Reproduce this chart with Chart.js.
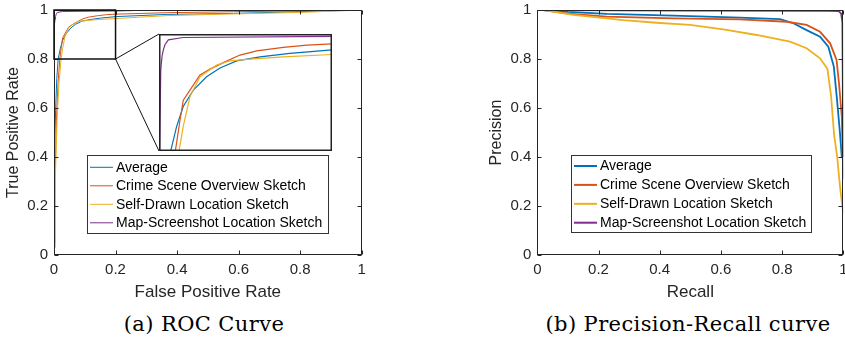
<!DOCTYPE html>
<html>
<head>
<meta charset="utf-8">
<script src="https://cdn.jsdelivr.net/npm/chart.js@4/dist/chart.umd.min.js"></script>
<style>
  html, body { margin: 0; padding: 0; background: #fff; overflow: hidden; width: 845px; height: 340px; }
  .pane { position: absolute; }
  .cap { position: absolute; font-family: "DejaVu Serif", serif; font-size: 21px; line-height: 24px;
         letter-spacing: 0.4px; color: #000; white-space: nowrap; transform: translateX(-50%); }
</style>
</head>
<body>
<div class="pane" style="left:0;top:-20px"><canvas id="roc" width="380" height="325"></canvas></div>
<div class="pane" style="left:480px;top:-20px"><canvas id="pr" width="380" height="325"></canvas></div>
<div class="pane" style="left:159px;top:34px;background:#fff"><canvas id="zoom" width="173" height="117"></canvas></div>
<div class="cap" style="left:204px;top:312px">(a) ROC Curve</div>
<div class="cap" style="left:688px;top:312px">(b) Precision-Recall curve</div>
<script>
// series names (legend)
const seriesNames = ["Average", "Crime Scene Overview Sketch", "Self-Drawn Location Sketch", "Map-Screenshot Location Sketch"];
const seriesColors = ["#0072BD", "#D95319", "#EDB120", "#7E2F8E"];

// ROC curves (false positive rate / true positive rate)
const rocAvgFpr = [0, 0.001, 0.003, 0.006, 0.009, 0.0135, 0.0204, 0.028, 0.0397, 0.055, 0.0705, 0.0898, 0.1168, 0.1514, 0.2, 0.367, 0.583, 0.8, 1];
const rocAvgTpr = [0.05, 0.25, 0.45, 0.62, 0.72, 0.80, 0.842, 0.876, 0.904, 0.927, 0.942, 0.954, 0.961, 0.967, 0.973, 0.982, 0.986, 0.993, 1];
const rocCrimeFpr = [0, 0.003, 0.008, 0.013, 0.0189, 0.0243, 0.0281, 0.0358, 0.0474, 0.059, 0.0743, 0.0936, 0.113, 0.1437, 0.171, 0.2, 0.367, 0.583, 0.8, 1];
const rocCrimeTpr = [0.03, 0.3, 0.55, 0.7, 0.80, 0.853, 0.887, 0.904, 0.930, 0.940, 0.951, 0.964, 0.971, 0.977, 0.981, 0.983, 0.989, 0.993, 0.996, 1];
const rocSelfFpr = [0, 0.004, 0.01, 0.016, 0.0231, 0.028, 0.0358, 0.0474, 0.0667, 0.082, 0.105, 0.1437, 0.2, 0.367, 0.583, 0.8, 1];
const rocSelfTpr = [0.06, 0.3, 0.55, 0.7, 0.80, 0.842, 0.893, 0.927, 0.947, 0.954, 0.957, 0.961, 0.965, 0.977, 0.984, 0.99, 1];
const rocMapFpr = [0, 0.0005, 0.001, 0.002, 0.0035, 0.005, 0.007, 0.0108, 0.028, 0.2, 0.3, 1];
const rocMapTpr = [0.09, 0.5, 0.8, 0.938, 0.962, 0.973, 0.982, 0.99, 0.994, 0.996, 0.999, 1];

// precision-recall curves
const prAvgRecall = [0.02, 0.1, 0.227, 0.444, 0.662, 0.793, 0.837, 0.880, 0.924, 0.951, 0.969, 0.979, 0.989, 0.995];
const prAvgPrecision = [1.0, 0.992, 0.984, 0.977, 0.969, 0.963, 0.946, 0.918, 0.891, 0.85, 0.769, 0.64, 0.50, 0.40];
const prCrimeRecall = [0.02, 0.1, 0.227, 0.444, 0.662, 0.815, 0.880, 0.924, 0.957, 0.978, 0.986, 0.995, 1.0];
const prCrimePrecision = [1.0, 0.985, 0.973, 0.966, 0.962, 0.952, 0.939, 0.911, 0.864, 0.796, 0.70, 0.565, 0.31];
const prSelfRecall = [0.02, 0.118, 0.281, 0.390, 0.499, 0.608, 0.717, 0.826, 0.880, 0.924, 0.948, 0.96, 0.97, 0.98, 0.99, 1.0];
const prSelfPrecision = [1.0, 0.98, 0.959, 0.948, 0.939, 0.921, 0.898, 0.871, 0.844, 0.803, 0.76, 0.65, 0.49, 0.40, 0.27, 0.17];
const prMapRecall = [0.02, 0.5, 0.95, 0.985, 0.993, 0.997, 1.0];
const prMapPrecision = [1.0, 0.998, 0.997, 0.995, 0.985, 0.95, 0.4];

// zoom box shown in the ROC inset
const zoomX = [0, 0.2];
const zoomY = [0.8, 1];

const FONT = "'Liberation Sans', Arial, sans-serif";
const AXIS = "#262626";

function pts(xs, ys) {
  return xs.map((v, i) => ({ x: v, y: ys[i] }));
}

function makeSets(pairs, width) {
  return pairs.map((p, i) => ({
    label: seriesNames[i],
    data: pts(p[0], p[1]),
    borderColor: seriesColors[i],
    borderWidth: width,
    pointRadius: 0,
    tension: 0,
    fill: false,
    order: pairs.length - i
  }));
}

const rocPairs = [[rocAvgFpr, rocAvgTpr], [rocCrimeFpr, rocCrimeTpr], [rocSelfFpr, rocSelfTpr], [rocMapFpr, rocMapTpr]];
const prPairs = [[prAvgRecall, prAvgPrecision], [prCrimeRecall, prCrimePrecision], [prSelfRecall, prSelfPrecision], [prMapRecall, prMapPrecision]];

// box around the axes with inward ticks, like matlab
const framePlugin = {
  id: "frame",
  afterDatasetsDraw(chart, args, opts) {
    const { ctx, chartArea: a, scales: { x, y } } = chart;
    ctx.save();
    ctx.strokeStyle = AXIS;
    ctx.lineWidth = 1;
    const L = Math.round(a.left) + 0.5, R = Math.round(a.right) - 0.5;
    const T = Math.round(a.top) + 0.5, B = Math.round(a.bottom) - 0.5;
    ctx.strokeRect(L, T, R - L, B - T);
    ctx.beginPath();
    x.ticks.forEach(t => {
      const px = Math.round(x.getPixelForValue(t.value)) + 0.5;
      ctx.moveTo(px, B); ctx.lineTo(px, B - 4);
      ctx.moveTo(px, T); ctx.lineTo(px, T + 4);
    });
    y.ticks.forEach(t => {
      const py = Math.round(y.getPixelForValue(t.value)) + 0.5;
      ctx.moveTo(L, py); ctx.lineTo(L + 4, py);
      ctx.moveTo(R, py); ctx.lineTo(R - 4, py);
    });
    ctx.stroke();

    // zoomed region and connector lines to the inset
    if (opts.zoom) {
      const x0 = x.getPixelForValue(zoomX[0]), x1 = x.getPixelForValue(zoomX[1]);
      const y0 = y.getPixelForValue(zoomY[0]), y1 = y.getPixelForValue(zoomY[1]);
      ctx.strokeStyle = "#111";
      ctx.lineWidth = 1.5;
      ctx.strokeRect(x0, y1, x1 - x0, y0 - y1);
      ctx.lineWidth = 1;
      ctx.beginPath();
      ctx.moveTo(x1, y0); ctx.lineTo(opts.zoom.left, opts.zoom.top);
      ctx.moveTo(x1, y0); ctx.lineTo(opts.zoom.left, opts.zoom.bottom);
      ctx.stroke();
    }
    ctx.restore();
  }
};

// legend box placed inside the plot
const legendPlugin = {
  id: "boxLegend",
  afterDraw(chart, args, o) {
    const ctx = chart.ctx;
    ctx.save();
    ctx.fillStyle = "#fff";
    ctx.fillRect(o.x, o.y, o.w, o.h);
    ctx.strokeStyle = "#333";
    ctx.lineWidth = 1;
    ctx.strokeRect(o.x + 0.5, o.y + 0.5, o.w, o.h);
    ctx.font = "14px " + FONT;
    ctx.textBaseline = "middle";
    chart.data.datasets.forEach((ds, i) => {
      const ry = o.y + o.first + i * o.step;
      ctx.strokeStyle = ds.borderColor;
      ctx.lineWidth = o.lw;
      ctx.beginPath();
      ctx.moveTo(o.x + 3, ry); ctx.lineTo(o.x + 3 + o.len, ry);
      ctx.stroke();
      ctx.fillStyle = "#000";
      ctx.fillText(ds.label, o.x + o.len + 6, ry + 0.5);
    });
    ctx.restore();
  }
};

function scalesFor(xTitle, yTitle, yWidth, yTitlePad) {
  const tickFont = { family: FONT, size: 15 };
  const fmt = v => String(+Number(v).toFixed(1));
  return {
    x: {
      type: "linear", min: 0, max: 1,
      grid: { display: false, drawTicks: false }, border: { display: false },
      ticks: { stepSize: 0.2, padding: 6, color: AXIS, font: tickFont, maxRotation: 0, autoSkip: false, callback: fmt },
      title: { display: true, text: xTitle, color: AXIS, font: { family: FONT, size: 17 }, padding: { top: 0, bottom: 2 } },
      afterFit: s => { s.height = 50; }
    },
    y: {
      type: "linear", min: 0, max: 1,
      grid: { display: false, drawTicks: false }, border: { display: false },
      ticks: { stepSize: 0.2, padding: 6, color: AXIS, font: tickFont, autoSkip: false, callback: fmt },
      title: { display: true, text: yTitle, color: AXIS, font: { family: FONT, size: 16 }, padding: { top: yTitlePad, bottom: 0 } },
      afterFit: s => { s.width = yWidth; }
    }
  };
}

const baseOpts = {
  responsive: false,
  animation: false,
  events: [],
  plugins: { legend: { display: false }, tooltip: { enabled: false } }
};

// ROC chart (canvas sits at page 0,-20)
new Chart(document.getElementById("roc"), {
  type: "line",
  data: { datasets: makeSets(rocPairs, 1) },
  options: {
    ...baseOpts,
    layout: { padding: { top: 30, right: 18.3, left: 0, bottom: 0 } },
    scales: scalesFor("False Positive Rate", "True Positive Rate", 54, 4),
    plugins: {
      ...baseOpts.plugins,
      frame: { zoom: { left: 159, top: 54, bottom: 171 } },
      boxLegend: { x: 87, y: 175, w: 241, h: 78, first: 12.3, step: 18.5, len: 23, lw: 1 }
    }
  },
  plugins: [framePlugin, legendPlugin]
});

// Precision-Recall chart (canvas sits at page 480,-20)
new Chart(document.getElementById("pr"), {
  type: "line",
  data: { datasets: makeSets(prPairs, 1.8) },
  options: {
    ...baseOpts,
    layout: { padding: { top: 30, right: 16.7, left: 0, bottom: 0 } },
    scales: scalesFor("Recall", "Precision", 57.3, 7),
    plugins: {
      ...baseOpts.plugins,
      frame: {},
      boxLegend: { x: 91, y: 175, w: 240, h: 77, first: 11, step: 18.9, len: 23, lw: 2 }
    }
  },
  plugins: [framePlugin, legendPlugin]
});

// inset: zoom of the top-left corner of the ROC plot
const insetBorder = {
  id: "insetBorder",
  afterDraw(chart) {
    const ctx = chart.ctx;
    ctx.save();
    ctx.strokeStyle = "#222";
    ctx.lineWidth = 1.5;
    ctx.strokeRect(0.75, 0.75, chart.width - 1.5, chart.height - 1.5);
    ctx.restore();
  }
};

new Chart(document.getElementById("zoom"), {
  type: "line",
  data: { datasets: makeSets(rocPairs, 1.2) },
  options: {
    ...baseOpts,
    layout: { padding: 0 },
    scales: {
      x: { type: "linear", min: zoomX[0], max: zoomX[1], display: false },
      y: { type: "linear", min: zoomY[0], max: zoomY[1], display: false }
    }
  },
  plugins: [insetBorder]
});
</script>
</body>
</html>
